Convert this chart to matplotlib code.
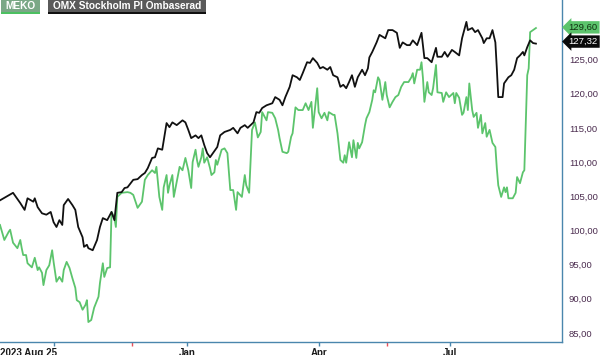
import numpy as np
import pandas as pd
import matplotlib
matplotlib.use("Agg")
import matplotlib.pyplot as plt
import matplotlib.dates as mdates
import matplotlib.transforms as mtransforms
from matplotlib.patches import Rectangle
from matplotlib.ticker import FixedLocator, FuncFormatter

plt.rcParams['font.family'] = ['Liberation Sans', 'DejaVu Sans']

start_date = "2023-08-25"

# OMX Stockholm PI, rebased (days counted from start_date)
omx_days = [0, 9, 14, 17, 19, 23, 24, 26, 29, 32, 35, 37, 39, 41, 43, 44, 47, 50, 52, 54,
            57, 58, 60, 61, 64, 67, 69, 71, 74, 77, 79, 81, 84, 86, 88, 92, 95, 98, 100, 102,
            105, 107, 109, 112, 114, 115, 117, 119, 122, 126, 128, 130, 132, 135, 137, 139, 141, 143, 145, 147,
            150, 152, 155, 159, 161, 164, 166, 169, 171, 175, 177, 179, 181, 184, 188, 190, 193, 195, 197, 200,
            202, 205, 207, 209, 212, 214, 216, 219, 221, 223, 226, 228, 230, 233, 235, 237, 239, 241, 243, 245,
            247, 250, 252, 254, 255, 257, 260, 262, 266, 268, 271, 274, 276, 278, 281, 283, 285, 288, 291, 293,
            295, 298, 301, 302, 305, 307, 309, 312, 314, 317, 319, 322, 323, 326, 328, 330, 333, 334, 336, 338,
            340, 342, 343, 344, 347, 348, 351, 353, 355, 357, 359, 361, 362, 364, 366, 368, 370]
omx_values = [104.4, 105.5, 104.0, 103.0, 104.7, 104.2, 104.7, 103.4, 102.5, 102.3, 102.7, 101.2, 100.5, 101.5, 100.8, 103.7, 104.6, 103.7, 103.0, 100.5,
              99.0, 97.6, 97.9, 97.4, 97.1, 98.6, 100.5, 101.8, 101.5, 102.7, 101.5, 105.5, 105.6, 106.2, 106.3, 107.4, 107.5, 108.1, 108.4, 109.1,
              110.6, 110.7, 112.0, 111.8, 114.4, 115.7, 115.1, 115.8, 115.4, 116.1, 115.8, 114.7, 113.5, 113.9, 113.5, 113.9, 112.5, 111.3, 110.7, 111.3,
              112.2, 113.9, 114.4, 114.7, 115.0, 114.2, 115.0, 115.4, 115.0, 115.8, 117.3, 117.2, 117.9, 118.3, 118.6, 119.5, 119.1, 118.3, 119.5, 121.0,
              122.7, 122.4, 122.0, 123.0, 124.6, 124.5, 125.2, 124.5, 123.7, 123.9, 123.5, 123.9, 122.7, 122.4, 121.0, 121.3, 120.8, 121.7, 122.7, 121.0,
              122.4, 123.5, 122.7, 123.7, 125.3, 126.1, 127.5, 128.6, 128.1, 129.3, 129.3, 128.9, 126.7, 127.5, 127.1, 127.1, 127.8, 127.1, 128.9, 125.2,
              125.2, 124.6, 126.7, 125.4, 125.4, 126.1, 125.4, 126.4, 126.1, 125.6, 128.1, 130.5, 129.3, 129.6, 129.0, 129.3, 128.1, 127.4, 128.1, 128.1,
              129.3, 127.5, 123.7, 119.5, 119.5, 121.5, 122.4, 122.7, 123.5, 125.2, 125.6, 126.1, 125.6, 126.8, 127.8, 127.4, 127.32]

# MEKO, rebased
meko_days = [0, 2, 3, 6, 7, 9, 12, 14, 15, 16, 18, 19, 22, 24, 26, 27, 29, 30, 32, 34,
             36, 37, 39, 41, 43, 44, 46, 48, 50, 52, 53, 55, 57, 59, 60, 61, 63, 65, 68, 69,
             71, 72, 74, 76, 77, 79, 80, 81, 84, 88, 90, 92, 95, 98, 100, 102, 105, 107, 108, 110,
             112, 113, 115, 116, 117, 119, 120, 122, 124, 126, 128, 130, 132, 133, 135, 136, 137, 139, 140, 141,
             143, 145, 146, 148, 149, 150, 153, 155, 157, 159, 161, 163, 164, 167, 169, 170, 172, 174, 176, 178,
             180, 181, 184, 185, 188, 190, 192, 193, 195, 198, 199, 201, 202, 204, 206, 209, 211, 213, 215, 216,
             219, 220, 222, 224, 226, 227, 230, 231, 233, 235, 237, 238, 239, 241, 243, 244, 246, 247, 248, 250,
             252, 253, 255, 257, 258, 259, 261, 262, 264, 266, 267, 269, 271, 273, 275, 277, 279, 282, 284, 285,
             286, 288, 290, 291, 292, 293, 295, 296, 298, 299, 301, 302, 305, 306, 308, 310, 313, 314, 315, 317,
             319, 320, 322, 323, 324, 326, 327, 329, 330, 332, 333, 335, 336, 338, 340, 342, 343, 344, 346, 348,
             349, 350, 351, 354, 356, 357, 359, 361, 362, 364, 365, 366, 368, 370]
meko_values = [100.8, 99.3, 98.6, 99.8, 100.1, 98.2, 97.4, 98.6, 97.4, 96.4, 96.4, 95.2, 94.6, 96.0, 94.2, 94.6, 93.8, 92.0, 94.2, 94.9,
               97.1, 95.4, 92.5, 93.2, 92.5, 94.2, 95.4, 94.5, 93.0, 91.6, 89.8, 89.5, 88.4, 89.1, 89.8, 86.6, 86.9, 88.7, 90.3, 92.3,
               95.2, 93.2, 94.5, 94.6, 102.7, 101.8, 100.5, 104.9, 105.5, 105.6, 105.5, 105.2, 103.3, 104.2, 107.4, 108.1, 108.8, 108.4, 109.3, 104.9,
               103.0, 106.3, 108.1, 105.5, 106.6, 108.1, 104.9, 107.1, 109.3, 108.8, 110.6, 108.8, 106.2, 110.0, 111.8, 110.3, 109.3, 110.7, 112.0, 109.9,
               110.7, 109.1, 108.1, 108.5, 110.3, 109.6, 111.8, 112.0, 111.3, 105.9, 105.9, 103.0, 105.6, 104.9, 108.1, 106.6, 105.5, 114.7, 115.8, 113.6,
               114.4, 117.3, 116.1, 117.3, 117.2, 116.4, 114.7, 113.5, 111.5, 111.3, 111.5, 113.7, 114.2, 118.0, 117.6, 117.6, 118.6, 117.6, 118.8, 115.0,
               120.8, 117.3, 116.4, 117.2, 116.1, 117.3, 116.9, 116.9, 114.2, 110.3, 109.9, 111.0, 109.9, 112.9, 110.7, 113.2, 110.6, 112.8, 112.0, 112.9,
               115.4, 116.4, 117.3, 119.1, 120.5, 120.2, 122.4, 122.0, 119.1, 121.7, 119.8, 118.0, 118.8, 119.5, 119.8, 121.0, 121.7, 121.7, 122.4, 123.0,
               121.5, 123.5, 123.5, 124.6, 122.3, 118.8, 121.7, 120.2, 119.8, 120.8, 124.2, 120.2, 120.1, 118.8, 120.2, 119.5, 120.1, 118.6, 120.1, 119.4,
               116.9, 117.2, 119.5, 117.6, 121.5, 117.6, 116.6, 117.2, 115.0, 116.9, 114.2, 115.7, 113.7, 114.7, 112.8, 112.2, 109.1, 106.6, 104.9, 106.3,
               105.6, 106.3, 104.7, 104.7, 105.5, 107.8, 106.9, 108.5, 108.8, 122.7, 123.7, 129.0, 129.3, 129.6]

event_dates = ["2023-11-24", "2024-05-18"]
tick_dates = ["2023-10-01", "2024-01-01", "2024-04-01", "2024-07-01"]
tick_labels = ["", "Jan", "Apr", "Jul"]
y_ticks = [85, 90, 95, 100, 105, 110, 115, 120, 125]

green = "#5cc46c"
axis_blue = "#4a86ad"
label_purple = "#4b2c4f"

t0 = pd.Timestamp(start_date)
omx_x = t0 + pd.to_timedelta(omx_days, unit="D")
meko_x = t0 + pd.to_timedelta(meko_days, unit="D")

fig = plt.figure(figsize=(6.0, 3.55), dpi=100)
ax = fig.add_axes([0.0, 13 / 355, 562 / 600, 342 / 355])

ax.plot(meko_x, meko_values, color=green, lw=1.3)
ax.plot(omx_x, omx_values, color="#111111", lw=1.3)

ax.set_xlim(t0, t0 + pd.Timedelta(days=388))
ax.set_ylim(83.68, 133.7)

for side in ("top", "left"):
    ax.spines[side].set_visible(False)
for side in ("right", "bottom"):
    ax.spines[side].set_color(axis_blue)
    ax.spines[side].set_linewidth(1.0)

# x axis
ax.xaxis.set_major_locator(FixedLocator(mdates.date2num(pd.to_datetime(tick_dates))))
ax.set_xticklabels(tick_labels)
ax.xaxis.set_minor_locator(FixedLocator(mdates.date2num(pd.to_datetime(event_dates))))
ax.tick_params(axis="x", which="major", length=3.2, width=1.0, color=axis_blue,
               labelsize=7, pad=1.0)
ax.tick_params(axis="x", which="minor", length=3.2, width=1.0, color="#e8505a")
for lab in ax.get_xticklabels():
    lab.set_fontweight("bold")
    lab.set_color("#1a1a1a")
ax.text(0.0, -0.018, "2023 Aug 25", transform=ax.transAxes, ha="left", va="top",
        fontsize=7, fontweight="bold", color="#1a1a1a", clip_on=False)

# y axis on the right
ax.yaxis.tick_right()
ax.set_yticks(y_ticks)
ax.yaxis.set_major_formatter(FuncFormatter(lambda v, p: f"{v:.2f}".replace(".", ",")))
ax.tick_params(axis="y", length=0, pad=5, labelsize=6.8, labelcolor=label_purple)

# last value tags
blend = mtransforms.blended_transform_factory(ax.transAxes, ax.transData)
ax.text(1.012, meko_values[-1] + 0.1, f"{meko_values[-1]:.2f}".replace(".", ","),
        transform=blend, ha="left", va="center", fontsize=6.8, color="#103010",
        bbox=dict(boxstyle="larrow,pad=0.18", fc=green, ec="none"), clip_on=False)
ax.text(1.012, omx_values[-1] + 0.3, f"{omx_values[-1]:.2f}".replace(".", ","),
        transform=blend, ha="left", va="center", fontsize=6.8, color="white",
        bbox=dict(boxstyle="larrow,pad=0.18", fc="#0a0a0a", ec="none"), clip_on=False)

# legend tags at the top
def header_tag(x0, x1, text, face, line):
    W, H = 600.0, 355.0
    fig.add_artist(Rectangle((x0 / W, 1 - 12 / H), (x1 - x0) / W, 12 / H,
                             transform=fig.transFigure, fc=face, ec="none"))
    fig.add_artist(Rectangle((x0 / W, 1 - 13.5 / H), (x1 - x0) / W, 1.5 / H,
                             transform=fig.transFigure, fc=line, ec="none"))
    fig.text((x0 + x1) / 2 / W, 1 - 6.2 / H, text, ha="center", va="center",
             fontsize=7.3, fontweight="bold", color="white")

header_tag(1, 40, "MEKO", "#7aa886", "#4cc061")
header_tag(48, 206, "OMX Stockholm PI Ombaserad", "#5a5a5a", "#111111")

fig.savefig("out.png", dpi=100)
